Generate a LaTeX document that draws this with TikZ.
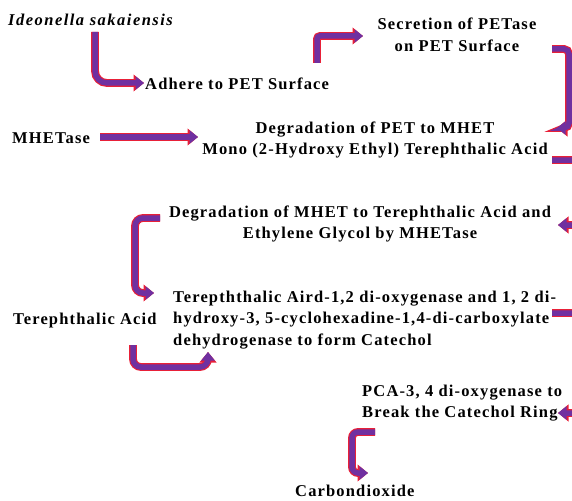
\documentclass[tikz,border=0pt]{standalone}
\usepackage{fontspec}
\setmainfont{Liberation Serif}[LetterSpace=7]
\usetikzlibrary{arrows.meta}
\definecolor{purp}{RGB}{112,48,160}
\definecolor{rim}{RGB}{232,32,56}
\tikzset{
  lbl/.style={inner sep=0pt, font=\fontsize{16.5}{21.5}\selectfont\bfseries},
  fat/.style={line width=5.5pt, draw=purp, rounded corners=#1,
    -{Triangle[length=8.5pt,width=13pt]},
    preaction={draw=rim, line width=7.8pt, -{Triangle[length=10.5pt,width=16.5pt]}}},
  fat/.default=8pt
}
\begin{document}
\begin{tikzpicture}[x=1pt,y=-1pt]
\useasboundingbox (0,0) rectangle (572,500);
\clip (0,0) rectangle (572,500);
% text nodes
\node[lbl, anchor=west, font=\fontsize{16.5}{21.5}\selectfont\bfseries\itshape\addfontfeature{LetterSpace=9}] (ideo) at (8,20) {Ideonella sakaiensis};
\node[lbl, anchor=west] (adhere) at (145,84) {Adhere to PET Surface};
\node[lbl, align=center] (secr) at (457,35) {Secretion of PETase\\on PET Surface};
\node[lbl, anchor=west] (mhetase) at (12,138) {MHETase};
\node[lbl, align=center] (degpet) at (375,140) {Degradation of PET to MHET\\Mono (2-Hydroxy Ethyl) Terephthalic Acid};
\node[lbl, align=center] (degmhet) at (360,224) {Degradation of MHET to Terephthalic Acid and\\Ethylene Glycol by MHETase};
\node[lbl, anchor=west] (tpa) at (13,321) {Terephthalic Acid};
\node[lbl, anchor=west, align=left] (dioxy) at (173,320) {Terepththalic Aird-1,2 di-oxygenase and 1, 2 di-\\hydroxy-3, 5-cyclohexadine-1,4-di-carboxylate\\dehydrogenase to form Catechol};
\node[lbl, anchor=west, align=left] (pca) at (362,403) {PCA-3, 4 di-oxygenase to\\Break the Catechol Ring};
\node[lbl, anchor=west] (co2) at (295,491) {Carbondioxide};
% connector end points
\coordinate (a1s) at (95,32);   \coordinate (a1e) at (144,83);
\coordinate (a2s) at (317,63);  \coordinate (a2e) at (363,36);
\coordinate (a3s) at (552,49);  \coordinate (a3e) at (557,128);
\coordinate (a4s) at (552,160); \coordinate (a4e) at (558,225);
\coordinate (a5s) at (552,313); \coordinate (a5e) at (558,413);
\coordinate (a6s) at (160,218); \coordinate (a6e) at (154,293);
\coordinate (a7s) at (133,345); \coordinate (a7e) at (208,352);
\coordinate (a8s) at (375,432); \coordinate (a8e) at (368,473);
\coordinate (a9s) at (100,137); \coordinate (a9e) at (198,137);
% connectors
\draw[fat=12pt] (a1s) |- (a1e);
\draw[fat=3pt] (a2s) |- (a2e);
\draw[fat=5pt] (a3s) -| (569,128) -- (a3e);
\draw[fat=5pt] (a4s) -| (585,225) -- (a4e);
\draw[fat=5pt] (a5s) -| (585,413) -- (a5e);
\draw[fat=8pt] (a6s) -| (135,293) -- (a6e);
\draw[fat=8pt] (a7s) |- (208,367) -- (a7e);
\draw[fat=6pt] (a8s) -| (352,473) -- (a8e);
\draw[fat=0pt] (a9s) -- (a9e);
\end{tikzpicture}
\end{document}
